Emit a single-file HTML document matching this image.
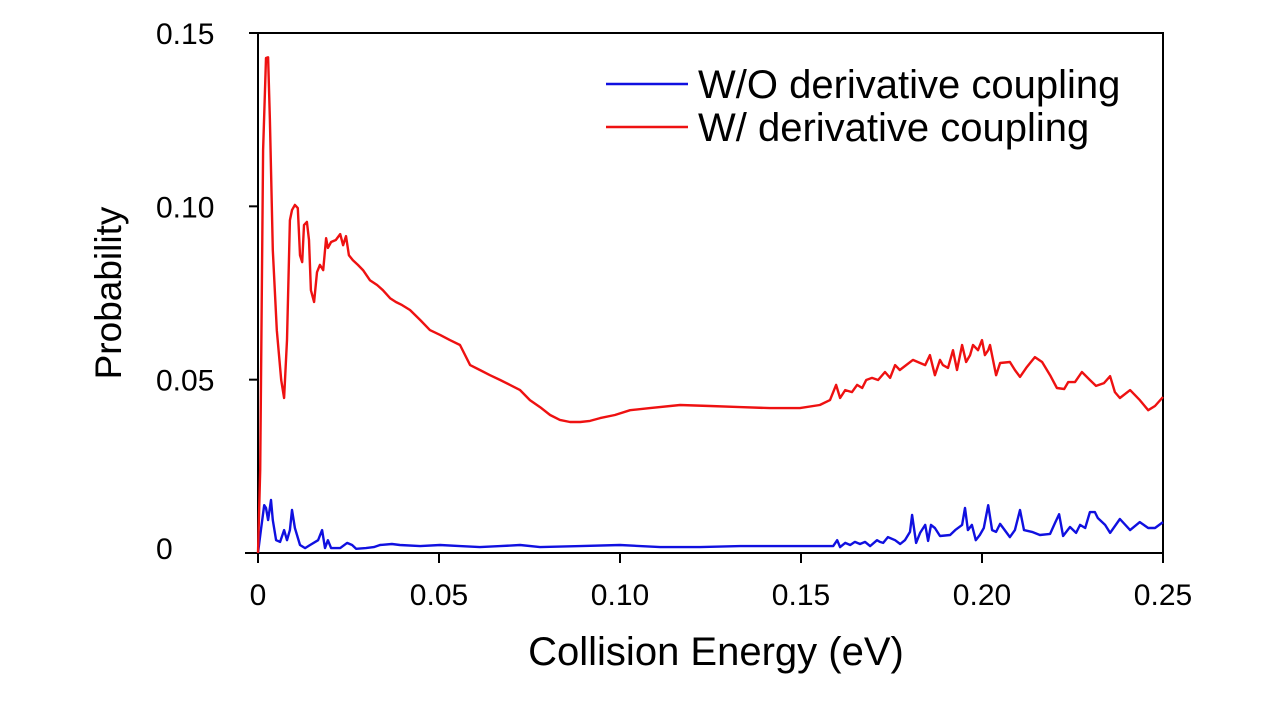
<!DOCTYPE html>
<html><head><meta charset="utf-8"><style>
html,body{margin:0;padding:0;background:#fff;}
svg{display:block;font-family:"Liberation Sans",Arial,sans-serif;}
</style></head><body>
<svg id="chart" width="1276" height="709" viewBox="0 0 1276 709">
<g id="axes"></g>
<g id="series"></g>
<g>
<line x1="606" y1="84" x2="688" y2="84" stroke="#1010e0" stroke-width="2.5"/>
<text x="698" y="98" font-size="40" fill="#000">W/O derivative coupling</text>
<line x1="606" y1="127" x2="688" y2="127" stroke="#ee1111" stroke-width="2.5"/>
<text x="698" y="141" font-size="40" fill="#000">W/ derivative coupling</text>
</g>
<text x="716" y="665" font-size="40" text-anchor="middle">Collision Energy (eV)</text>
<text x="0" y="0" font-size="37" text-anchor="middle" transform="translate(121,293) rotate(-90)">Probability</text>
</svg>
<script>
const xTicks=[0,0.05,0.10,0.15,0.20,0.25];
const xTickLabels=["0","0.05","0.10","0.15","0.20","0.25"];
const yTicks=[0,0.05,0.10,0.15];
const yTickLabels=["0","0.05","0.10","0.15"];
const energyRed=[0,.0006,.0014,.0022,.0028,.0033,.0041,.0052,.0064,.0072,.0080,.0088,.0094,.0102,.0110,.0116,.0122,.0127,.0135,.0141,.0146,.0155,.0163,.0171,.0180,.0188,.0193,.0202,.0215,.0227,.0235,.0243,.0251,.0262,.0276,.0290,.0309,.0329,.0345,.0365,.0381,.0398,.0420,.0448,.0475,.0503,.0530,.0558,.0586,.0613,.0641,.0669,.0696,.0724,.0751,.0779,.0807,.0834,.0862,.0890,.0917,.0945,.0986,.1028,.1083,.1166,.1249,.1331,.1414,.1497,.1552,.1580,.1597,.1608,.1622,.1641,.1655,.1669,.1680,.1696,.1713,.1732,.1746,.1760,.1773,.1809,.1829,.1843,.1856,.1870,.1884,.1892,.1906,.1920,.1931,.1945,.1956,.1967,.1975,.1989,.2000,.2008,.2017,.2022,.2039,.2050,.2077,.2091,.2105,.2122,.2133,.2146,.2166,.2188,.2207,.2227,.2238,.2257,.2276,.2298,.2315,.2337,.2354,.2367,.2381,.2409,.2436,.2459,.2478,.25];
const probRed=[0,.0239,.1162,.1428,.1430,.1249,.0874,.0643,.0499,.0447,.0614,.0960,.0989,.1004,.0995,.0859,.0839,.0946,.0955,.0903,.0758,.0724,.0810,.0831,.0816,.0908,.0880,.0897,.0903,.0920,.0888,.0914,.0859,.0845,.0831,.0816,.0787,.0773,.0758,.0735,.0724,.0715,.0701,.0672,.0643,.0629,.0614,.0600,.0542,.0528,.0513,.0499,.0485,.0470,.0441,.0421,.0398,.0384,.0378,.0378,.0381,.0389,.0398,.0412,.0418,.0427,.0424,.0421,.0418,.0418,.0427,.0441,.0485,.0447,.0470,.0464,.0485,.0476,.0499,.0505,.0499,.0522,.0505,.0542,.0528,.0557,.0548,.0542,.0571,.0513,.0557,.0542,.0534,.0585,.0528,.0600,.0551,.0571,.0600,.0585,.0614,.0571,.0585,.0600,.0513,.0548,.0551,.0528,.0508,.0534,.0548,.0565,.0551,.0513,.0476,.0473,.0493,.0493,.0522,.0499,.0482,.0490,.0510,.0464,.0447,.0470,.0441,.0412,.0424,.0450];
const energyBlue=[0,.0008,.0017,.0022,.0028,.0036,.0041,.0050,.0061,.0072,.0080,.0088,.0094,.0102,.0116,.0130,.0144,.0166,.0177,.0185,.0193,.0202,.0227,.0246,.0260,.0271,.0298,.0320,.0337,.0370,.0392,.0448,.0503,.0558,.0613,.0669,.0724,.0779,.0890,.1000,.1111,.1221,.1332,.1442,.1553,.1589,.1600,.1608,.1622,.1636,.1649,.1663,.1677,.1691,.1710,.1718,.1727,.1740,.1760,.1774,.1787,.1801,.1807,.1818,.1829,.1843,.1851,.1859,.1870,.1884,.1912,.1926,.1945,.1953,.1961,.1972,.1983,.1994,.2005,.2017,.2028,.2039,.2050,.2077,.2091,.2105,.2116,.2138,.2160,.2188,.2202,.2213,.2224,.2243,.2260,.2271,.2285,.2298,.2312,.2320,.2340,.2354,.2381,.2409,.2436,.2459,.2478,.25];
const probBlue=[0,.0066,.0138,.0130,.0095,.0153,.0095,.0037,.0032,.0066,.0037,.0066,.0124,.0072,.0023,.0014,.0023,.0037,.0066,.0014,.0037,.0014,.0014,.0029,.0023,.0012,.0014,.0017,.0023,.0026,.0023,.0020,.0023,.0020,.0017,.0020,.0023,.0017,.0020,.0023,.0017,.0017,.0020,.0020,.0020,.0020,.0037,.0017,.0029,.0023,.0032,.0026,.0032,.0020,.0037,.0032,.0029,.0046,.0037,.0026,.0037,.0061,.0110,.0029,.0058,.0081,.0035,.0081,.0072,.0049,.0052,.0066,.0081,.0130,.0066,.0081,.0037,.0052,.0072,.0138,.0066,.0061,.0084,.0046,.0066,.0124,.0066,.0061,.0052,.0055,.0087,.0112,.0049,.0075,.0058,.0081,.0072,.0118,.0118,.0101,.0081,.0058,.0098,.0066,.0089,.0072,.0072,.0089];

const L=258,R=1163,T=33,B=553,xMax=0.25,yMax=0.15;
const sx=v=>L+v/xMax*(R-L);
const sy=v=>B-v/yMax*(B-T);
const NS="http://www.w3.org/2000/svg";
const axes=document.getElementById('axes');
function mk(tag,attrs,parent){const e=document.createElementNS(NS,tag);for(const k in attrs)e.setAttribute(k,attrs[k]);parent.appendChild(e);return e;}

const frame=mk('rect',{x:L,y:T,width:R-L,height:B-T,fill:'none',stroke:'#000','stroke-width':2},axes);


const xl=mk('line',{x1:245,y1:B,x2:L,y2:B,stroke:'#000','stroke-width':2},axes);



xTicks.forEach((v,i)=>{
  const t=mk('line',{x1:sx(v),y1:B,x2:sx(v),y2:B+10,stroke:'#000','stroke-width':2},axes);
  
  
  const lb=mk('text',{x:sx(v),y:605,'font-size':30,'text-anchor':'middle'},axes);
  lb.textContent=xTickLabels[i];
  
  
});
yTicks.forEach((v,i)=>{
  const t=mk('line',{x1:L-9,y1:sy(v),x2:L,y2:sy(v),stroke:'#000','stroke-width':2},axes);
  
  
  const lb=mk('text',{x:156,y:(v===0?sy(v)+6:sy(v)+11),'font-size':30,'text-anchor':'start'},axes);
  lb.textContent=yTickLabels[i];
  
  
});

const series=document.getElementById('series');
function pts(xs,ys){return xs.map((x,i)=>sx(x).toFixed(1)+','+sy(ys[i]).toFixed(1)).join(' ');}
const blue=mk('polyline',{points:pts(energyBlue,probBlue),fill:'none',stroke:'#1010e0','stroke-width':2.4,'stroke-linejoin':'round'},series);


const red=mk('polyline',{points:pts(energyRed,probRed),fill:'none',stroke:'#ee1111','stroke-width':2.4,'stroke-linejoin':'round'},series);


</script>
</body></html>
